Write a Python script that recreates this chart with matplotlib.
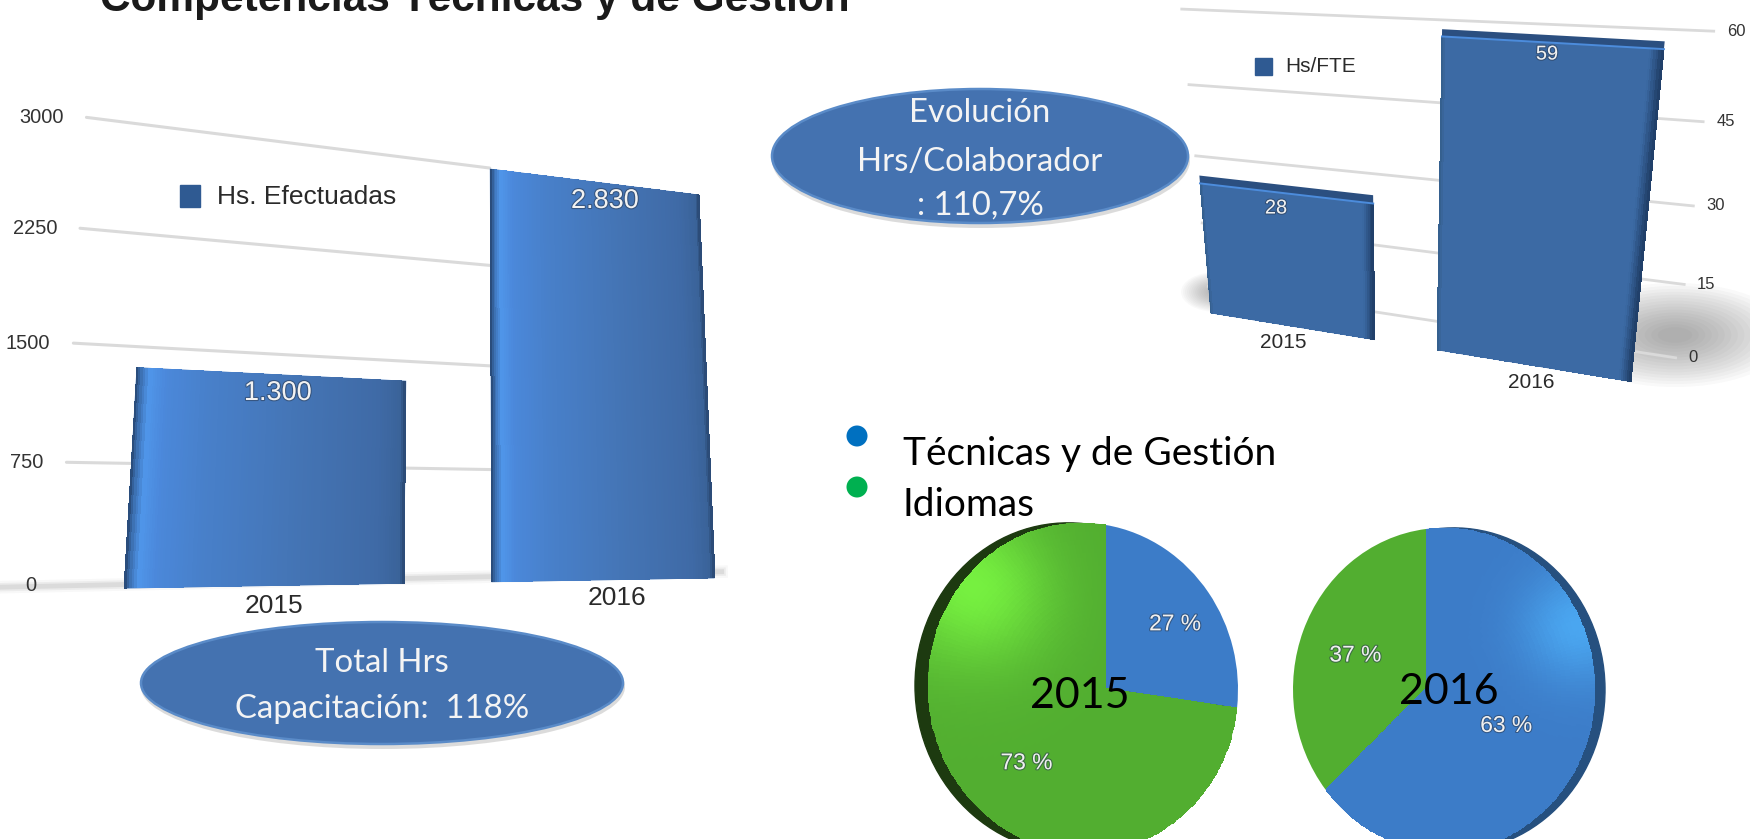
import numpy as np
import matplotlib
matplotlib.use("Agg")
import matplotlib.pyplot as plt
import matplotlib.transforms as mtransforms
import matplotlib.patheffects as pe
from matplotlib.colors import LinearSegmentedColormap as LSC
from matplotlib.patches import Ellipse, Circle, Rectangle

# ---------- data ----------
title = "Competencias Técnicas y de Gestión"
years = ["2015", "2016"]
hours = [1300, 2830]
hours_ticks = [0, 750, 1500, 2250, 3000]
hours_legend = "Hs. Efectuadas"
fte = [28, 59]
fte_ticks = [0, 15, 30, 45, 60]
fte_legend = "Hs/FTE"
pie_2015 = [27, 73]
pie_2016 = [63, 37]
pie_legend = ["Técnicas y de Gestión", "Idiomas"]
oval_top = ["Evolución", "Hrs/Colaborador", ": 110,7%"]
oval_bottom = ["Total Hrs", "Capacitación:  118%"]

W, H = 1750, 839
fig = plt.figure(figsize=(W / 100, H / 100), dpi=100, facecolor="white")
to_fig = mtransforms.Affine2D().scale(1 / W, -1 / H).translate(0, 1) + fig.transFigure


class Hom(mtransforms.Transform):
    input_dims = 2
    output_dims = 2
    is_separable = False
    has_inverse = False

    def __init__(self, M):
        super().__init__()
        self.M = M

    def transform_non_affine(self, v):
        v = np.asarray(v, float).reshape(-1, 2)
        p = np.c_[v, np.ones(len(v))] @ self.M.T
        return p[:, :2] / p[:, [2]]


def fit(src, dst, vmax):
    """Projective calibration of a chart plane (data -> reference pixels)."""
    S = np.diag([1, 1 / vmax, 1.0])
    D = np.diag([1 / 1000, 1 / 1000, 1.0])
    rows = []
    for (a, b), (x, y) in zip(src, dst):
        b = b / vmax
        x, y = x / 1000, y / 1000
        rows.append([a, b, 1, 0, 0, 0, -x * a, -x * b, -x])
        rows.append([0, 0, 0, a, b, 1, -y * a, -y * b, -y])
    M = np.linalg.svd(np.array(rows))[2][-1].reshape(3, 3)
    return np.linalg.inv(D) @ M @ S


def layer(z):
    ax = fig.add_axes([0, 0, 1, 1], zorder=z)
    ax.set_axis_off()
    ax.patch.set_alpha(0)
    return ax


def finish(ax):
    ax.set_xlim(0, W)
    ax.set_ylim(H, 0)
    ax.set_axis_off()


SANS = "Liberation Sans"
HUM = "Lato"
shadow = [pe.withStroke(linewidth=1.6, foreground="#2b3a50", alpha=0.55)]
LEG = "#2f5a92"

bw = 0.74
xpos = np.arange(2)
e0, e1, e2, e3 = -bw / 2, bw / 2, 1 - bw / 2, 1 + bw / 2

# ---------- left chart ----------
axL = layer(1)
bars_L = fit(
    [(e0, hours[0]), (e1, hours[0]), (e0, 0), (e1, 0), (e2, hours[1]), (e3, hours[1]), (e2, 0), (e3, 0)],
    [(136, 366), (404, 380), (126, 590), (403, 584), (491, 169), (699, 195), (492, 582), (715, 578)],
    3000,
)
grid_L = fit(
    [(-.9, v) for v in hours_ticks] + [(.6, v) for v in hours_ticks] + [(1.65, 0)],
    [(60, 588), (67, 462), (74, 343), (80, 227), (87, 115),
     (490, 576), (490, 471), (490, 367), (490, 267), (490, 169), (735, 569)],
    3000,
)
TbL = Hom(bars_L) + to_fig
TgL = Hom(grid_L) + to_fig
for v in hours_ticks[1:]:
    axL.plot([-.9, .6], [v, v], color="#dadada", lw=2.2, transform=TgL, solid_capstyle="round", zorder=1)
for lw, a in [(9, .05), (6, .09), (3.5, .14)]:
    axL.plot([-1.12, 1.6], [0, 0], color="#777777", lw=lw, alpha=a, transform=TgL, zorder=1)
for v in hours_ticks:
    px = Hom(grid_L).transform([(-.9, v)])[0]
    axL.text(px[0] - 23, px[1], str(v), ha="right", va="center", fontsize=14.4, family=SANS,
             color="#333333", transform=to_fig)

cmL = LSC.from_list("barL", [(0, "#2a4d7c"), (.012, "#3a6cac"), (.04, "#5096ea"), (.1, "#4b88da"),
                             (.25, "#4880ca"), (.6, "#4474b4"), (.9, "#3f6aa6"), (.985, "#3a6399"), (1, "#2c4c78")])
rects = axL.bar(xpos, hours, bw, color="#4478bc", zorder=2)
for r in rects:
    r.set_transform(TbL)
    r.set_clip_on(False)
for x, v in zip(xpos, hours):
    axL.pcolormesh(np.linspace(x - bw / 2, x + bw / 2, 121), [0, v], np.linspace(0, 1, 120)[None, :],
                   cmap=cmL, transform=TbL, zorder=3, antialiased=False, clip_on=False)
for i, (v, (lx, ly), (ax_, ay)) in enumerate(zip(hours, [(278, 393), (605, 201)], [(274, 606), (617, 598)])):
    axL.text(lx, ly, f"{v:,}".replace(",", "."), ha="center", va="center", fontsize=19.5, family=SANS,
             color="#f2f2f2", path_effects=shadow, transform=to_fig, zorder=5)
    axL.text(ax_, ay, years[i], ha="center", va="center", fontsize=19, family=SANS, color="#2a2a2a",
             transform=to_fig, zorder=5)
axL.add_patch(Rectangle((180, 185), 20, 22, color=LEG, transform=to_fig, zorder=5))
axL.text(217, 197, hours_legend, ha="left", va="center", fontsize=19, family=SANS, color="#2a2a2a",
         transform=to_fig, zorder=5)
finish(axL)

# ---------- right chart ----------
axR = layer(1)
bars_R = fit(
    [(e0, fte[0]), (e1, fte[0]), (e0, 0), (e1, 0), (e2, fte[1]), (e3, fte[1]), (e2, 0), (e3, 0)],
    [(1200, 185), (1371, 203), (1211, 313), (1373, 338), (1444, 35), (1663, 50), (1440, 352), (1631, 382)],
    60,
)
grid_R = fit(
    [(-.7, v) for v in fte_ticks] + [(1.65, v) for v in fte_ticks],
    [(1209, 286), (1202, 224), (1195, 155), (1188, 85), (1183, 9),
     (1675, 358), (1685, 284), (1693, 206), (1704, 122), (1713, 31)],
    60,
)
TbR = Hom(bars_R) + to_fig
TgR = Hom(grid_R) + to_fig
for (cx, cy, rx, ry, a) in [(1675, 335, 115, 52, .035), (1217, 292, 36, 20, .03)]:
    for s in np.linspace(1, .15, 16):
        axR.add_patch(Ellipse((cx, cy), 2 * rx * s, 2 * ry * s, color="#555555", alpha=a, lw=0,
                              transform=to_fig, zorder=0))
for v in fte_ticks:
    axR.plot([-.7, 1.65], [v, v], color="#dadada", lw=2, transform=TgR, zorder=1)
    px = Hom(grid_R).transform([(1.65, v)])[0]
    axR.text(px[0] + 13, px[1], str(v), ha="left", va="center", fontsize=12, family=SANS, color="#333333",
             transform=to_fig)
caps_h = [1.6, 1.2]
cmR = LSC.from_list("barR", [(0, "#35608f"), (.015, "#3c6aa4"), (.95, "#3c6aa4"), (.975, "#2f5688"), (1, "#21406a")])
rects = axR.bar(xpos, fte, bw, color="#3c6aa4", zorder=2)
for r in rects:
    r.set_transform(TbR)
    r.set_clip_on(False)
caps = axR.bar(xpos, caps_h, bw, bottom=fte, color="#2b4f80", zorder=2)
for r in caps:
    r.set_transform(TbR)
    r.set_clip_on(False)
for x, v in zip(xpos, fte):
    axR.pcolormesh(np.linspace(x - bw / 2, x + bw / 2, 101), [0, v], np.linspace(0, 1, 100)[None, :],
                   cmap=cmR, transform=TbR, zorder=3, antialiased=False, clip_on=False)
    axR.plot([x - bw / 2, x + bw / 2], [v, v], color="#4c8cdc", lw=1.4, transform=TbR, zorder=4, clip_on=False)
for i, (v, (lx, ly), (ax_, ay)) in enumerate(zip(fte, [(1276, 208), (1547, 54)], [(1283, 342), (1531, 382)])):
    axR.text(lx, ly, str(v), ha="center", va="center", fontsize=14.4, family=SANS, color="#f2f2f2",
             path_effects=shadow, transform=to_fig, zorder=5)
    axR.text(ax_, ay, years[i], ha="center", va="center", fontsize=15, family=SANS, color="#2a2a2a",
             transform=to_fig, zorder=5)
axR.add_patch(Rectangle((1255, 58), 17, 17, color=LEG, transform=to_fig, zorder=5))
axR.text(1285, 67, fte_legend, ha="left", va="center", fontsize=15, family=SANS, color="#2a2a2a",
         transform=to_fig, zorder=5)
finish(axR)

# ---------- pies ----------
BLUE, GREEN = "#3c7cc8", "#52ae30"


def pie_chart(values, cardinal, rim_dx, rim_col, spot, sigma, spot_idx, cols, r_lab, lab_fs=16.4):
    ax = layer(2)
    src = [(1, 0), (-1, 0), (0, 1), (0, -1)]
    M = fit(src, cardinal, 1)
    T = Hom(M) + to_fig
    rim = Hom(fit(src, [(x + rim_dx, y) for x, y in cardinal], 1)) + to_fig
    ax.add_patch(Circle((0, 0), 1, color=rim_col, transform=rim, zorder=1, clip_on=False))
    wedges, _ = ax.pie(values, colors=[BLUE, GREEN], startangle=90, counterclock=False)
    for w in wedges:
        w.set_transform(T)
        w.set_clip_on(False)
        w.set_zorder(2)
    cum = np.cumsum([0] + list(values))
    a0 = np.radians(90 - cum[spot_idx] * 3.6)
    a1 = np.radians(90 - cum[spot_idx + 1] * 3.6)
    rr, aa = np.meshgrid(np.linspace(0, 1, 40), np.linspace(a0, a1, 200))
    xx, yy = rr * np.cos(aa), rr * np.sin(aa)
    xc = .25 * (xx[:-1, :-1] + xx[1:, :-1] + xx[:-1, 1:] + xx[1:, 1:])
    yc = .25 * (yy[:-1, :-1] + yy[1:, :-1] + yy[:-1, 1:] + yy[1:, 1:])
    C = np.exp(-((xc - spot[0]) ** 2 + (yc - spot[1]) ** 2) / (2 * sigma ** 2))
    ax.pcolormesh(xx, yy, C, cmap=LSC.from_list("spot", cols), vmin=0, vmax=1, transform=T, zorder=3,
                  antialiased=False, clip_on=False)
    pts = Hom(M)
    for i, v in enumerate(values):
        th = np.radians(90 - (cum[i] + v / 2) * 3.6)
        px = pts.transform([(r_lab * np.cos(th), r_lab * np.sin(th))])[0]
        ax.text(px[0], px[1], f"{v} %", ha="center", va="center", fontsize=lab_fs, family=SANS,
                color="#f0f0f0", path_effects=shadow, transform=to_fig, zorder=5)
    finish(ax)
    return ax


pie_chart(pie_2015, [(1238, 690), (928, 686), (1106, 525), (1106, 851)], -13, "#1d3a10",
          (-.78, .55), .3, 1, ["#52ae30", "#76f040"], .65)
pie_chart(pie_2016, [(1595, 688), (1293, 688), (1426, 529), (1426, 850)], 10, "#26507f",
          (.92, .35), .22, 0, ["#3c7cc8", "#4aa6f0"], .55)

# ---------- overlay ----------
ov = layer(6)
ov.text(100, 11, title, ha="left", va="baseline", fontsize=30.5, family=SANS, weight="bold", color="#1a1a1a",
        transform=to_fig, clip_on=False)

for (cx, cy, rx, ry), lines, ys, fs in [
    ((980, 156, 208, 67), oval_top, [113, 162, 206], 23.7),
    ((382, 683, 241, 61), oval_bottom, [663, 709], 23.7),
]:
    ov.add_patch(Ellipse((cx + 1, cy + 4), 2 * rx + 2, 2 * ry + 2, color="#8a8a8a", alpha=.3, lw=0,
                         transform=to_fig))
    ov.add_patch(Ellipse((cx, cy), 2 * rx, 2 * ry, facecolor="#4472b0", edgecolor="#5a8bc8", lw=1.8,
                         transform=to_fig))
    for t, y in zip(lines, ys):
        ov.text(cx, y, t, ha="center", va="center", fontsize=fs, family=HUM, color="#f4f4f4", transform=to_fig)

for (y, col, t) in [(436, "#0070C0", pie_legend[0]), (487, "#00B050", pie_legend[1])]:
    ov.add_patch(Ellipse((857, y), 21, 21, color=col, lw=0, transform=to_fig))
    ov.text(903, y + 18, t, ha="left", va="center", fontsize=28, family=HUM, color="black", transform=to_fig)

ov.text(1080, 696, years[0], ha="center", va="center", fontsize=31, family=HUM, color="black", transform=to_fig)
ov.text(1449, 692, years[1], ha="center", va="center", fontsize=31, family=HUM, color="black", transform=to_fig)
finish(ov)

fig.savefig("out.png", dpi=100, facecolor="white")
